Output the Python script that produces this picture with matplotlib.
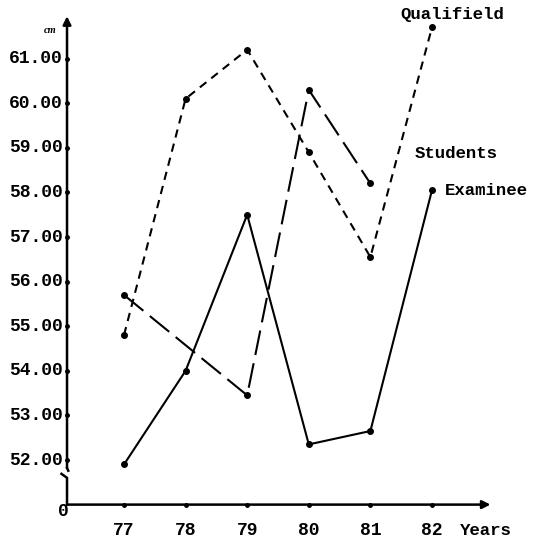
import matplotlib.pyplot as plt

# values (cm)
years = [77, 78, 79, 80, 81, 82]
qualifield = [54.8, 60.1, 61.2, 58.9, 56.55, 61.7]
students_years = [77, 79, 80, 81]
students = [55.7, 53.45, 60.3, 58.2]
examinee = [51.9, 54.0, 57.5, 52.35, 52.65, 58.05]
y_ticks = [52, 53, 54, 55, 56, 57, 58, 59, 60, 61]

fig = plt.figure(figsize=(5.33, 5.41), dpi=100)
ax = fig.add_axes([0, 0, 1, 1])
ax.set_xlim(74.987, 83.64)
ax.set_ylim(50.184, 62.314)
ax.axis('off')

x0 = 76.075   # position of the vertical axis
y0 = 51.0     # position of the horizontal axis ("0")

# axes with arrows and a break near the bottom of the vertical axis
ax.annotate('', xy=(x0, 61.95), xytext=(x0, 51.82),
            arrowprops=dict(arrowstyle='-|>', color='black', lw=1.8,
                            mutation_scale=12, shrinkA=0, shrinkB=0))
ax.plot([x0, x0 + 0.02], [51.82, 51.76], color='black', lw=1.8)
ax.plot([x0 - 0.09, x0, x0], [51.69, 51.6, y0], color='black', lw=1.8)
ax.annotate('', xy=(82.95, y0), xytext=(x0, y0),
            arrowprops=dict(arrowstyle='-|>', color='black', lw=1.8,
                            mutation_scale=12, shrinkA=0, shrinkB=0))

# tick marks
ax.plot([x0] * len(y_ticks), y_ticks, 'o', color='black', ms=2.5)
ax.plot(years, [y0] * len(years), 'o', color='black', ms=2.5)

tick_font = dict(family='Liberation Mono', weight='bold', fontsize=13)
for v in y_ticks:
    ax.text(76.0, v, f'{v}.00', ha='right', va='center', **tick_font)
for yr in years:
    ax.text(yr, 50.42, str(yr), ha='center', va='center', **tick_font)
ax.text(76.02, 50.84, '0', ha='center', va='center', **tick_font)
ax.text(75.8, 61.64, 'cm', ha='center', va='center', family='Liberation Serif',
        style='italic', weight='bold', fontsize=7.5)

# series
ax.plot(years, qualifield, color='black', lw=1.5, ls=(0, (4, 3)),
        marker='o', ms=4)
ax.plot(students_years, students, color='black', lw=1.5, ls=(0, (12, 4)),
        marker='o', ms=4)
ax.plot(years, examinee, color='black', lw=1.5, marker='o', ms=4)

label_font = dict(family='Liberation Mono', weight='bold', fontsize=12.5)
ax.text(81.48, 61.98, 'Qualifield', ha='left', va='center', **label_font)
ax.text(81.72, 58.88, 'Students', ha='left', va='center', **label_font)
ax.text(82.21, 58.05, 'Examinee', ha='left', va='center', **label_font)
ax.text(82.45, 50.43, 'Years', ha='left', va='center', **label_font)

fig.savefig('out.png', dpi=100)
